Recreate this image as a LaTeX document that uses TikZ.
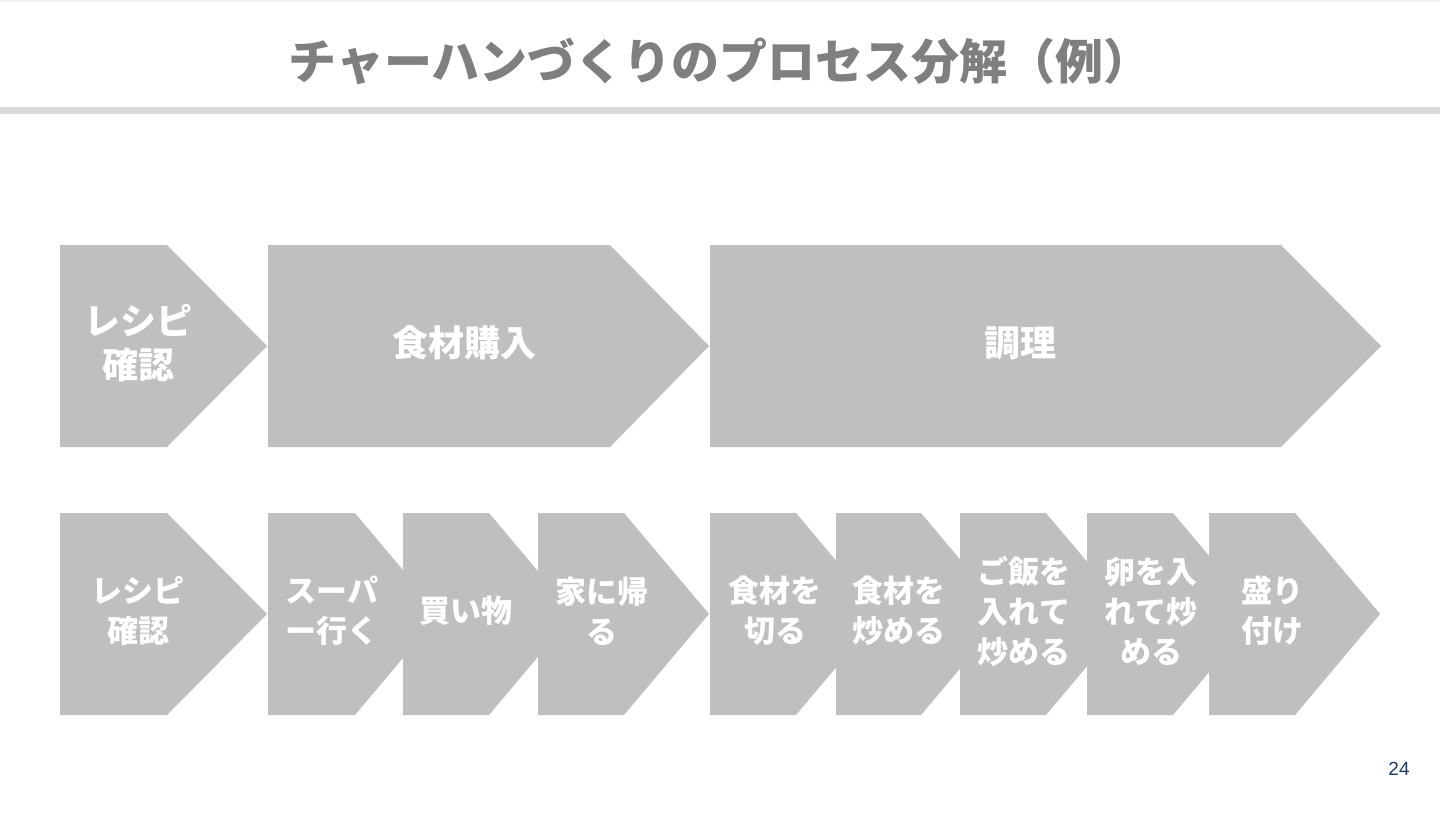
\documentclass[tikz,border=0pt]{standalone}
\usepackage{fontspec}
\setmainfont{Noto Sans CJK JP}
\setsansfont{Liberation Sans}
\definecolor{chevgray}{HTML}{BFBFBF}
\definecolor{titlegray}{HTML}{7F7F7F}
\definecolor{rulegray}{HTML}{D9D9D9}
\definecolor{pagenavy}{HTML}{1F3864}
\tikzset{
  chevfill/.style={fill=chevgray},
  biglabel/.style={text=white, align=center, font=\bfseries\fontsize{36}{44}\selectfont, inner sep=0pt},
  smalllabel/.style={text=white, align=center, font=\bfseries\fontsize{31}{40}\selectfont, inner sep=0pt},
}
% #1 left x, #2 top y, #3 body end x, #4 bottom y, #5 tip x
\newcommand\chevshape[5]{\fill[chevfill] (#1,#2) -- (#3,#2) -- (#5,{(#2+#4)/2}) -- (#3,#4) -- (#1,#4) -- cycle;}
\begin{document}
\begin{tikzpicture}[x=1pt,y=-1pt]
\useasboundingbox[fill=white] (0,0) rectangle (1440,812);
% top faint line and title rule
\fill[gray!12] (0,0) rectangle (1440,2);
\fill[rulegray] (0,107) rectangle (1440,114);
\node[text=titlegray, font=\bfseries\fontsize{48}{52}\selectfont, inner sep=0pt] (title) at (720,61) {チャーハンづくりのプロセス分解（例）};
% top row
\chevshape{60}{245}{167}{447}{267}
\chevshape{268}{245}{610}{447}{709}
\chevshape{710}{245}{1281}{447}{1381}
\node[biglabel] (t1) at (138,343) {レシピ\\確認};
\node[biglabel] (t2) at (464,343) {食材購入};
\node[biglabel] (t3) at (1020,343) {調理};
% bottom row
\chevshape{60}{513}{167}{715}{267}
\chevshape{268}{513}{355}{715}{440}
\chevshape{403}{513}{489}{715}{574}
\chevshape{538}{513}{624}{715}{709}
\chevshape{710}{513}{796}{715}{881}
\chevshape{836}{513}{921}{715}{1006}
\chevshape{960}{513}{1046}{715}{1131}
\chevshape{1087}{513}{1173}{715}{1258}
\chevshape{1209}{513}{1295}{715}{1380}
\node[smalllabel] (b1) at (138,611) {レシピ\\確認};
\node[smalllabel] (b2) at (332,611) {スーパ\\ー行く};
\node[smalllabel] (b3) at (466,611) {買い物};
\node[smalllabel] (b4) at (602,611) {家に帰\\る};
\node[smalllabel] (b5) at (775,611) {食材を\\切る};
\node[smalllabel] (b6) at (899,611) {食材を\\炒める};
\node[smalllabel] (b7) at (1024,611) {ご飯を\\入れて\\炒める};
\node[smalllabel] (b8) at (1151,611) {卵を入\\れて炒\\める};
\node[smalllabel] (b9) at (1272,611) {盛り\\付け};
% page number
\node[text=pagenavy, font=\sffamily\fontsize{19}{22}\selectfont, inner sep=0pt] (page) at (1399,769) {24};
\end{tikzpicture}
\end{document}
